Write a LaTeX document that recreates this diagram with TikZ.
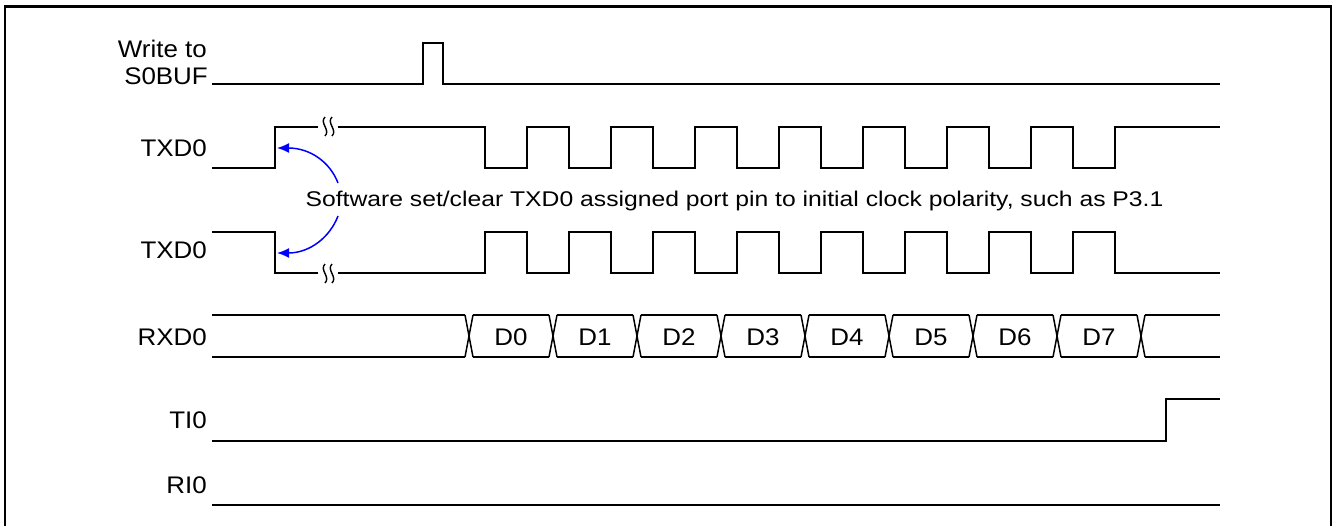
\documentclass[tikz,border=0pt]{standalone}
\usepackage{fontspec}
\setmainfont{Liberation Sans}
\newfontfamily\lblfont{Liberation Sans}[FakeStretch=1.08]
\newfontfamily\notefont{Liberation Sans}[FakeStretch=1.16]
\usetikzlibrary{arrows.meta}
\begin{document}
\begin{tikzpicture}[x=1pt,y=-1pt,
  sig/.style={line width=1.5pt, line join=miter},
  frame/.style={line width=2.6pt},
  lbl/.style={font=\lblfont\fontsize{24}{26}\selectfont, anchor=base east, inner sep=0pt},
  dat/.style={font=\lblfont\fontsize{24}{26}\selectfont, anchor=base, inner sep=0pt},
  note/.style={font=\notefont\fontsize{21.3}{24}\selectfont, anchor=base, inner sep=0pt},
  brk/.style={line width=1.4pt},
  bluearrow/.style={blue, line width=1.5pt, -{Latex[length=12pt,width=10pt]}}]
\useasboundingbox (0,0) rectangle (1336,525);
% frame
\draw[frame] (5,535) -- (5,6.5) -- (1331,6.5) -- (1331,535);
% labels
\node[lbl] (wr1) at (207,57) {Write to};
\node[lbl] (wr2) at (208,84) {S0BUF};
\node[lbl] (tx1) at (207,156) {TXD0};
\node[lbl] (tx2) at (207,258) {TXD0};
\node[lbl] (rx) at (207,345) {RXD0};
\node[lbl] (ti) at (207,428) {TI0};
\node[lbl] (ri) at (207,493) {RI0};
% Write to S0BUF
\draw[sig] (212,84) -- (423,84) -- (423,43) -- (443,43) -- (443,84) -- (1220,84);
% TXD0 (idle low, set high)
\draw[sig] (212,168) -- (275,168) -- (275,127) -- (318,127);
\draw[sig] (338,127) -- (485,127)
  \foreach \k in {0,...,7}{ -- ({485+84*\k},168) -- ({527+84*\k},168) -- ({527+84*\k},127) -- ({569+84*\k},127)}
  -- (1220,127);
% TXD0 (idle high, clear low)
\draw[sig] (212,232) -- (275,232) -- (275,273) -- (318,273);
\draw[sig] (338,273) -- (485,273)
  \foreach \k in {0,...,7}{ -- ({485+84*\k},232) -- ({527+84*\k},232) -- ({527+84*\k},273) -- ({569+84*\k},273)}
  -- (1220,273);
% break marks
\foreach \yy in {117,264}{
  \draw[brk] (325,\yy) .. controls (319,\yy+6) and (331,\yy+13) .. (325,\yy+19);
  \draw[brk] (332,\yy) .. controls (326,\yy+6) and (338,\yy+13) .. (332,\yy+19);
}
% RXD0
\draw[sig] (212,315) -- (465,315) (212,357) -- (465,357);
\foreach \k in {0,...,8}{
  \pgfmathsetmacro{\c}{469+84*\k}
  \draw[sig] (\c-4,315) -- (\c+4,357) (\c-4,357) -- (\c+4,315);
}
\foreach \k in {0,...,7}{
  \pgfmathsetmacro{\a}{473+84*\k}
  \pgfmathsetmacro{\b}{549+84*\k}
  \draw[sig] (\a,315) -- (\b,315) (\a,357) -- (\b,357);
}
\draw[sig] (1145,315) -- (1220,315) (1145,357) -- (1220,357);
\foreach \k in {0,...,7}{
  \node[dat] (d\k) at ({511+84*\k},345) {D\k};
}
% TI0
\draw[sig] (212,441) -- (1166,441) -- (1166,399) -- (1220,399);
% RI0
\draw[sig] (212,505) -- (1220,505);
% note and arrows
\node[note] (note) at (734.5,206) {Software set/clear TXD0 assigned port pin to initial clock polarity, such as P3.1};
\coordinate (s1) at (338,183);
\coordinate (t1) at (277,148);
\coordinate (s2) at (338,216);
\coordinate (t2) at (277,253);
\draw[bluearrow] (s1) .. controls (330,162) and (310,148) .. (t1);
\draw[bluearrow] (s2) .. controls (330,237) and (310,253) .. (t2);
\end{tikzpicture}
\end{document}
